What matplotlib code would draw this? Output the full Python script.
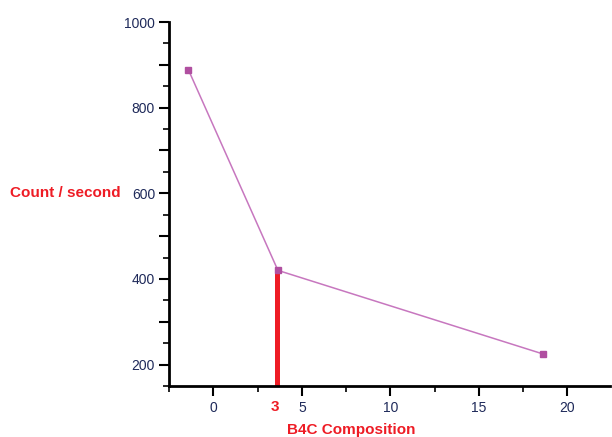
import matplotlib
matplotlib.use('Agg')
import matplotlib.pyplot as plt
from matplotlib.ticker import MultipleLocator, FuncFormatter

#data
b4c = [-1.4, 3.65, 18.6]
counts = [888, 420, 225]
marked_x = 3.6
marked_label = '3'

plt.rcParams['font.family'] = ['Liberation Sans', 'DejaVu Sans']

fig = plt.figure(figsize=(6.12, 4.37), dpi=100)
ax = fig.add_axes([169/612, 1 - 386/437, (610 - 169)/612, (386 - 22)/437])

line_col = '#c777bf'
marker_col = '#b04fa0'
ax.plot(b4c, counts, color=line_col, lw=1.1, zorder=3)
ax.plot(b4c, counts, ls='none', marker='s', ms=4.5, mfc=marker_col, mec=marker_col, zorder=4)

#red marker bar for 3% composition
ax.vlines(marked_x, 150, counts[1], color='#ee1c25', lw=3.6, zorder=2)

ax.set_xlim(-2.5, 22.4)
ax.set_ylim(150, 1000)

ax.spines['top'].set_visible(False)
ax.spines['right'].set_visible(False)
ax.spines['left'].set_linewidth(2)
ax.spines['bottom'].set_linewidth(2)

ax.xaxis.set_major_locator(MultipleLocator(5))
ax.xaxis.set_minor_locator(MultipleLocator(2.5))
ax.yaxis.set_major_locator(MultipleLocator(100))
ax.yaxis.set_minor_locator(MultipleLocator(50))
ax.yaxis.set_major_formatter(FuncFormatter(lambda v, p: f'{int(v)}' if int(v) % 200 == 0 else ''))

ax.tick_params(axis='both', which='major', length=7, width=1.5, labelsize=10,
               labelcolor='#1f2a5a', pad=3)
ax.tick_params(axis='both', which='minor', length=4, width=1.2)
ax.tick_params(axis='x', pad=4)

#red label under the marker bar
ax.annotate(marked_label, xy=(marked_x - 0.1, 0), xycoords=('data', 'axes fraction'),
            xytext=(0, -10), textcoords='offset points', ha='center', va='top',
            color='#ee1c25', fontsize=11, fontweight='bold')

fig.text(10/612, 1 - 193/437, 'Count / second', color='#ee1c25', fontsize=11,
         fontweight='bold', ha='left', va='center')
fig.text(351/612, 1 - 430/437, 'B4C Composition', color='#ee1c25', fontsize=11,
         fontweight='bold', ha='center', va='center')

fig.savefig('out.png', dpi=100)
